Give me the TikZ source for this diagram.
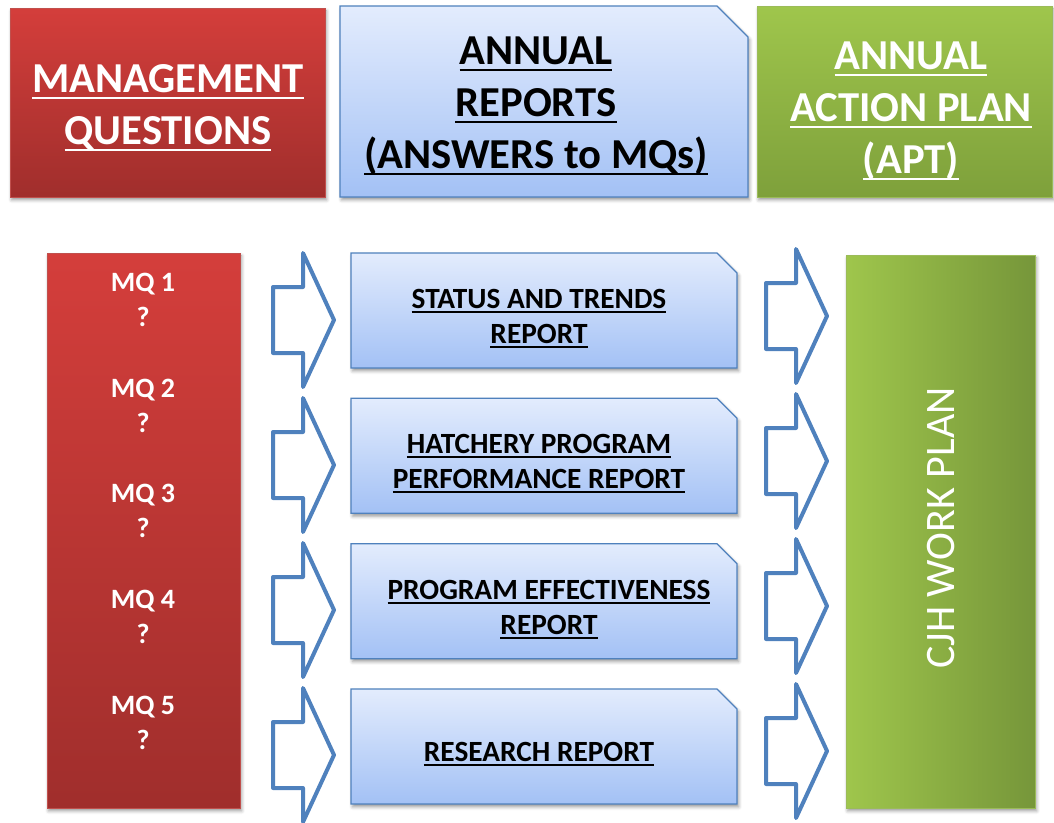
\documentclass[tikz,border=0pt]{standalone}
\usepackage{fontspec}
\setmainfont{Carlito}
\usetikzlibrary{shadows.blur}
\definecolor{redtop}{HTML}{D43E3B}
\definecolor{redbot}{HTML}{A02E2C}
\definecolor{redline}{HTML}{C0504D}
\definecolor{bluetop}{HTML}{E3ECFD}
\definecolor{bluebot}{HTML}{A3C1F5}
\definecolor{blueline}{HTML}{4F81BD}
\definecolor{greentop}{HTML}{9FC64C}
\definecolor{greenbot}{HTML}{7EA03B}
\definecolor{greenline}{HTML}{9BBB59}
\definecolor{greenright}{HTML}{76963A}
\definecolor{arrowblue}{HTML}{4F81BD}
\newcommand{\ulx}[1]{\setbox0=\hbox{#1}\rlap{\copy0}\rule[-0.15em]{\wd0}{0.055em}}
\begin{document}
\begin{tikzpicture}[x=0.75pt,y=-0.75pt,
  shadowed/.style={blur shadow={shadow xshift=1.2pt,shadow yshift=-2.2pt,shadow blur radius=2.5pt,shadow opacity=40}},
  redbox/.style={draw=redline,line width=0.6pt,top color=redtop,bottom color=redbot,shadowed},
  bluebox/.style={draw=blueline,line width=0.9pt,top color=bluetop,bottom color=bluebot,shadowed},
  greenbox/.style={draw=greenline,line width=0.6pt,top color=greentop,bottom color=greenbot,shadowed},
  greenvbox/.style={draw=greenline,line width=0.6pt,left color=greentop,right color=greenright,shadowed},
  toptext/.style={font=\bfseries\fontsize{32}{39}\selectfont,align=center,inner sep=0pt},
  reptext/.style={font=\bfseries\fontsize{22}{26.25}\selectfont,align=center,inner sep=0pt},
  mqtext/.style={font=\bfseries\fontsize{21}{26.25}\selectfont,align=center,inner sep=0pt,text=white},
  blockarrow/.pic={\draw[arrowblue,line width=3pt,line join=round,fill=white]
     (0,-33) -- (30,-33) -- (30,-67) -- (61,0) -- (30,67) -- (30,33) -- (0,33) -- cycle;}
]
\useasboundingbox (0,0) rectangle (1054,822);
% header boxes
\path[redbox] (10,8) rectangle (325,197);
\path[bluebox] (340,6) -- (717,6) -- (748,37) -- (748,197) -- (340,197) -- cycle;
\path[greenbox] (757,6) rectangle (1052,197);
\node[toptext,text=white] (mq) at (168,108) {\ulx{MANAGEMENT}\\\ulx{QUESTIONS}};
\node[toptext] (ar) at (536,106) {\ulx{ANNUAL}\\\ulx{REPORTS}\\\ulx{(ANSWERS to MQs)}};
\node[toptext,text=white] (ap) at (911,111) {\ulx{ANNUAL}\\\ulx{ACTION PLAN}\\\ulx{(APT)}};
% left questions column
\path[redbox] (47,253) rectangle (240,808);
\node[mqtext] (q1) at (143,299.5) {MQ 1\\?};
\node[mqtext] (q2) at (143,405.5) {MQ 2\\?};
\node[mqtext] (q3) at (143,510.5) {MQ 3\\?};
\node[mqtext] (q4) at (143,616.5) {MQ 4\\?};
\node[mqtext] (q5) at (143,722.5) {MQ 5\\?};
% reports
\foreach \t in {253,398.3,543.7,689}{
  \path[bluebox] (351,\t) -- (717,\t) -- (737,\t+20) -- (737,\t+115) -- (351,\t+115) -- cycle;
}
\node[reptext] (r1) at (539,318.5) {\ulx{STATUS AND TRENDS}\\\ulx{REPORT}};
\node[reptext] (r2) at (539,463.5) {\ulx{HATCHERY PROGRAM}\\\ulx{PERFORMANCE REPORT}};
\node[reptext] (r3) at (549,609.5) {\ulx{PROGRAM EFFECTIVENESS}\\\ulx{REPORT}};
\node[reptext] (r4) at (539,754) {\ulx{RESEARCH REPORT}};
% arrows
\foreach \c in {320,465,610,755}{ \pic at (273,\c) {blockarrow}; }
\foreach \c in {316,461,606,751}{ \pic at (766,\c) {blockarrow}; }
% work plan
\path[greenvbox] (846,255) rectangle (1035,808);
\node[rotate=90,text=white,font=\fontsize{31.5}{38}\selectfont,inner sep=0pt] (cjh) at (941,528) {CJH WORK PLAN};
\end{tikzpicture}
\end{document}
